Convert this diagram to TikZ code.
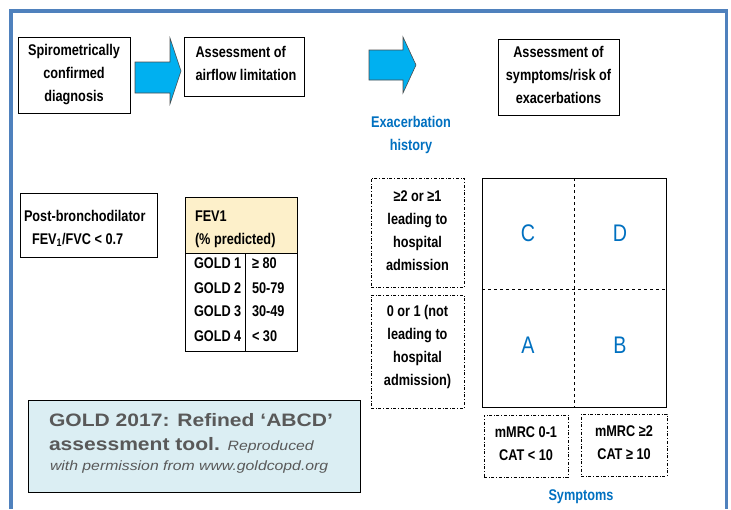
\documentclass[tikz,border=0pt]{standalone}
\usepackage{fontspec}
\setmainfont{Liberation Sans}
\newfontfamily\nar[FakeStretch=0.82]{Liberation Sans}
\newfontfamily\wide[FakeStretch=1.17]{Liberation Sans}
\definecolor{frameblue}{RGB}{79,129,189}
\definecolor{arrowcyan}{RGB}{0,176,240}
\definecolor{txtblue}{RGB}{0,112,192}
\definecolor{hdrbeige}{RGB}{253,240,202}
\definecolor{capfill}{RGB}{219,238,243}
\definecolor{capgray}{RGB}{89,89,89}
\begin{document}
\begin{tikzpicture}[x=1pt,y=-1pt,
  every node/.style={inner sep=0pt, outer sep=0pt},
  txt/.style={font=\nar\bfseries\fontsize{15.5}{23}\selectfont, align=center},
  bluetxt/.style={txt, text=txtblue},
  box/.style={draw, line width=0.8pt, fill=white},
  ddbox/.style={draw, dash dot, line width=0.7pt},
  blockarrow/.style={draw=black!70, line width=0.6pt, fill=arrowcyan},
  letter/.style={font=\nar\fontsize{24}{24}\selectfont, text=txtblue},
  capbold/.style={anchor=base west, text=capgray, font=\wide\bfseries\fontsize{18}{24}\selectfont},
  capit/.style={anchor=base west, text=capgray, font=\wide\itshape\fontsize{13.5}{16}\selectfont}]
\useasboundingbox (0,0) rectangle (731,509);
% outer frame
\draw[frameblue, line width=3.5pt] (11,509) -- (11,11) -- (726.5,11) -- (726.5,509);

% top boxes
\node[box, minimum width=112pt, minimum height=76pt] (diag) at (74,75.5) {};
\node[txt] at (74,74.5) {Spirometrically\\confirmed\\diagnosis};
\node[box, minimum width=120pt, minimum height=59pt] (airflow) at (244,66.5) {};
\node[txt, align=left] at (246,63) {Assessment of\\airflow limitation};
\node[box, minimum width=121pt, minimum height=76pt] (symp) at (558.5,77) {};
\node[txt] at (558.5,75) {Assessment of\\symptoms/risk of\\exacerbations};

% block arrows
\draw[blockarrow] (135,62) -- (170,62) -- (170,38) -- (181,71) -- (170,104) -- (170,93) -- (135,93) -- cycle;
\draw[blockarrow] (369,50) -- (403,50) -- (403,37) -- (416,65) -- (403,93) -- (403,80) -- (369,80) -- cycle;

\node[bluetxt] (exh) at (411,134.5) {Exacerbation\\history};

% post-bronchodilator
\node[box, minimum width=137pt, minimum height=64pt] (post) at (88.5,225) {};
\node[txt, align=left, anchor=west] at (24,228.5) {Post-bronchodilator\\\hspace*{8pt}FEV\textsubscript{1}/FVC < 0.7};

% FEV1 table
\fill[hdrbeige] (185,197) rectangle (297,253);
\draw[line width=0.8pt] (185,197) rectangle (297,351);
\draw[line width=0.8pt] (185,253) -- (297,253);
\draw[line width=0.8pt] (245,253) -- (245,352);
\node[txt, align=left, anchor=west] (fevh) at (195,229.5) {FEV1\\(\% predicted)};
\foreach \y/\g/\v in {263/1/{≥ 80},288/2/{50-79},311/3/{30-49},336/4/{< 30}}{
  \node[txt, anchor=west] at (194,\y) {GOLD \g};
  \node[txt, anchor=west] at (252,\y) {\v};
}

% exacerbation boxes
\node[ddbox, minimum width=93pt, minimum height=109pt] (hi) at (417.5,232.5) {};
\node[txt] at (417.5,231) {≥2 or ≥1\\leading to\\hospital\\admission};
\node[ddbox, minimum width=93pt, minimum height=113pt] (lo) at (417.5,351.5) {};
\node[txt] at (417.5,346.5) {0 or 1 (not\\leading to\\hospital\\admission)};

% ABCD grid
\draw[line width=0.8pt] (482,178) rectangle (666,407);
\draw[dashed, line width=0.7pt] (574,178) -- (574,407);
\draw[dashed, line width=0.7pt] (482,289) -- (667,289);
\node[letter] (C) at (528,233) {C};
\node[letter] (D) at (620,233) {D};
\node[letter] (A) at (528,345) {A};
\node[letter] (B) at (620,345) {B};

% symptom boxes
\node[ddbox, minimum width=84pt, minimum height=62pt] (s1) at (526,446) {};
\node[txt] at (526,444) {mMRC 0-1\\CAT < 10};
\node[ddbox, minimum width=86pt, minimum height=62pt] (s2) at (624,445) {};
\node[txt] at (624,443) {mMRC ≥2\\CAT ≥ 10};
\node[bluetxt] (sym) at (581,497) {Symptoms};

% caption
\node[draw, line width=1pt, fill=capfill, minimum width=332pt, minimum height=92pt] (cap) at (194,446) {};
\node[capbold] at (49,426) {GOLD 2017: Refined ‘ABCD’};
\node[capbold] at (49,450) {assessment tool. {\mdseries\itshape\fontsize{13.5}{16}\selectfont Reproduced}};
\node[capit] at (50,470) {with permission from www.goldcopd.org};
\end{tikzpicture}
\end{document}
